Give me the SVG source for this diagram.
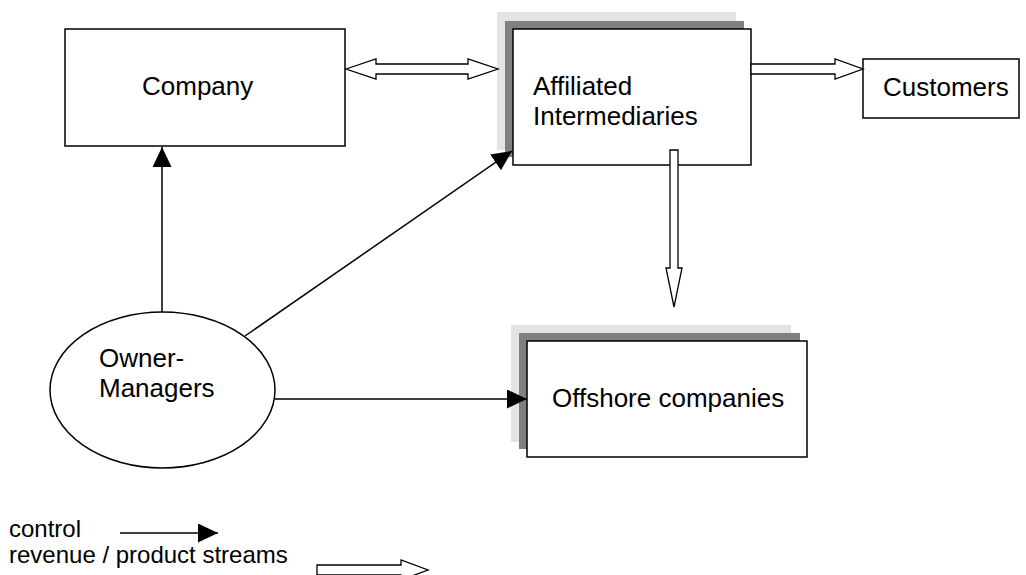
<svg xmlns="http://www.w3.org/2000/svg" width="1026" height="575" viewBox="0 0 1026 575">
<style>
text{font-family:"Liberation Sans",Arial,sans-serif;fill:#000}
.node{font-size:26px}
.leg{font-size:24px}
.box{fill:#fff;stroke:#000;stroke-width:1.5}
.sh1{fill:#e3e3e3}
.sh2{fill:#808080}
.ctl{stroke:#000;stroke-width:1.5;fill:none;marker-end:url(#ah)}
.hol{fill:#fff;stroke:#000;stroke-width:1.3;stroke-linejoin:miter}
</style>
<defs>
<marker id="ah" markerUnits="userSpaceOnUse" markerWidth="20" markerHeight="20" refX="20" refY="9.5" orient="auto">
<path d="M0,0 L20,9.5 L0,19 z" fill="#000"/>
</marker>
</defs>
<rect width="1026" height="575" fill="#fff"/>
<g id="company">
<rect class="box" x="65" y="29" width="280" height="117"/>
<text class="node" x="142" y="95">Company</text>
</g>
<g id="affiliated">
<rect class="sh1" x="497" y="12" width="239" height="138"/>
<rect class="sh2" x="505" y="21" width="239" height="136"/>
<rect class="box" x="513" y="29" width="238" height="136"/>
<text class="node" x="533" y="95">Affiliated</text>
<text class="node" x="533" y="125">Intermediaries</text>
</g>
<g id="customers">
<rect class="box" x="863" y="59" width="156" height="59"/>
<text class="node" x="883" y="96">Customers</text>
</g>
<g id="owner-managers">
<ellipse class="box" cx="162.5" cy="390" rx="112.5" ry="78"/>
<text class="node" x="99" y="367">Owner-</text>
<text class="node" x="99" y="397">Managers</text>
</g>
<g id="offshore">
<rect class="sh1" x="511" y="325" width="280" height="117"/>
<rect class="sh2" x="519" y="333" width="281" height="116"/>
<rect class="box" x="527" y="341" width="280" height="116"/>
<text class="node" x="552" y="407">Offshore companies</text>
</g>
<g id="connectors">
<line class="ctl" x1="162" y1="312" x2="162" y2="147"/>
<line class="ctl" x1="245" y1="336" x2="512" y2="151"/>
<line class="ctl" x1="275" y1="399" x2="527" y2="399"/>
<polygon class="hol" points="346,69 376,59 376,64 468,64 468,59 498,69 468,79 468,74 376,74 376,79"/>
<polygon class="hol" points="751,64 835,64 835,59 863,69 835,79 835,74 751,74"/>
<polygon class="hol" points="670,150 678,150 678,268 682,268 674,307 666,268 670,268"/>
</g>
<g id="legend">
<text class="leg" x="9" y="537">control</text>
<text class="leg" x="9" y="563">revenue / product streams</text>
<line class="ctl" x1="120" y1="533" x2="218" y2="533"/>
<polygon class="hol" points="317,565 401,565 401,560 428,570 401,580 401,575 317,575"/>
</g>
</svg>
